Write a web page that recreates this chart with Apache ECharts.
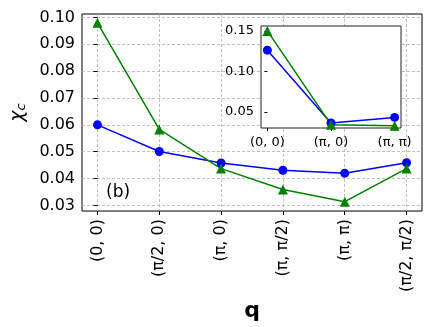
<!DOCTYPE html>
<html>
<head>
<meta charset="utf-8">
<script src="https://cdn.jsdelivr.net/npm/echarts@6/dist/echarts.min.js"></script>
<style>
  html, body { margin: 0; padding: 0; background: #fff; }
  #chart { width: 436px; height: 327px; }
</style>
</head>
<body>
<div id="chart"></div>
<script>
// main panel
const categories = ['(0, 0)', '(π/2, 0)', '(π, 0)', '(π, π/2)', '(π, π)', '(π/2, π/2)'];
const blueMain = [0.0600, 0.0501, 0.0458, 0.0431, 0.0420, 0.0459];
const greenMain = [0.0980, 0.0583, 0.0437, 0.0359, 0.0314, 0.0437];
const yTicksMain = [0.03, 0.04, 0.05, 0.06, 0.07, 0.08, 0.09, 0.10];

// inset
const insetCategories = ['(0, 0)', '(π, 0)', '(π, π)'];
const blueInset = [0.1263, 0.0365, 0.0434];
const greenInset = [0.1500, 0.0344, 0.0331];
const yTicksInset = [0.05, 0.10, 0.15];

const font = 'DejaVu Sans';
const BLUE = '#0000ff';
const GREEN = '#008000';

const gridLine = {
  show: true,
  lineStyle: { color: '#b0b0b0', type: [3, 2], width: 0.8 },
};

function idx(arr) {
  return arr.map((v, i) => i);
}
function toPoints(arr) {
  return arr.map((v, i) => [i, v]);
}

const chart = echarts.init(document.getElementById('chart'), null, { renderer: 'canvas' });

const option = {
  animation: false,
  backgroundColor: '#fff',
  textStyle: { fontFamily: font },
  grid: [
    {
      left: 82, top: 14, width: 340, height: 199,
      show: true, borderColor: '#000', borderWidth: 1, backgroundColor: 'transparent',
    },
    {
      left: 261, top: 26, width: 140, height: 102, z: 3,
      show: true, borderColor: '#222', borderWidth: 1, backgroundColor: '#fff',
    },
  ],
  xAxis: [
    {
      gridIndex: 0,
      type: 'value',
      min: -0.25,
      max: categories.length - 0.75,
      axisLine: { show: false },
      axisTick: { show: true, length: 4, customValues: idx(categories), lineStyle: { color: '#000' } },
      axisLabel: {
        customValues: idx(categories),
        rotate: 90,
        margin: 8,
        fontSize: 16,
        color: '#000',
        fontFamily: font,
        formatter: v => categories[Math.round(v)],
      },
      splitLine: gridLine,
      name: 'q',
      nameLocation: 'middle',
      nameGap: 80,
      nameTextStyle: { fontSize: 22, fontWeight: 'bold', color: '#000', fontFamily: font },
    },
    {
      gridIndex: 1,
      type: 'value',
      z: 4,
      min: -0.1,
      max: insetCategories.length - 0.9,
      axisLine: { show: false },
      axisTick: { show: true, length: 3, customValues: idx(insetCategories), lineStyle: { color: '#000' } },
      axisLabel: {
        customValues: idx(insetCategories),
        margin: 8,
        fontSize: 13,
        color: '#000',
        fontFamily: font,
        formatter: v => insetCategories[Math.round(v)],
      },
      splitLine: { show: false },
    },
  ],
  yAxis: [
    {
      gridIndex: 0,
      type: 'value',
      min: 0.0279,
      max: 0.1013,
      axisLine: { show: false },
      axisTick: { show: true, length: 4, customValues: yTicksMain, lineStyle: { color: '#000' } },
      axisLabel: {
        customValues: yTicksMain,
        margin: 7,
        fontSize: 16,
        color: '#000',
        fontFamily: font,
        formatter: v => v.toFixed(2),
      },
      splitLine: gridLine,
      name: '{chi|χ}{sub|c}',
      nameLocation: 'middle',
      nameRotate: 90,
      nameGap: 52,
      nameTextStyle: {
        color: '#000',
        rich: {
          chi: { fontSize: 19, fontStyle: 'italic', fontFamily: font, color: '#000' },
          sub: { fontSize: 13, fontStyle: 'italic', fontFamily: font, color: '#000', padding: [8, 0, 0, 0] },
        },
      },
    },
    {
      gridIndex: 1,
      type: 'value',
      z: 4,
      min: 0.0303,
      max: 0.1561,
      axisLine: { show: false },
      axisTick: { show: true, length: 3, customValues: yTicksInset, lineStyle: { color: '#000' } },
      axisLabel: {
        customValues: yTicksInset,
        margin: 7,
        fontSize: 13,
        color: '#000',
        fontFamily: font,
        formatter: v => v.toFixed(2),
      },
      splitLine: { show: false },
    },
  ],
  graphic: [
    {
      type: 'text',
      left: 106,
      top: 184,
      style: { text: '(b)', fontSize: 17, fontFamily: font, fill: '#000' },
    },
  ],
  series: [
    {
      type: 'line',
      xAxisIndex: 0, yAxisIndex: 0,
      data: toPoints(blueMain),
      symbol: 'circle', symbolSize: 9,
      lineStyle: { color: BLUE, width: 1.5 },
      itemStyle: { color: BLUE },
    },
    {
      type: 'line',
      xAxisIndex: 0, yAxisIndex: 0,
      data: toPoints(greenMain),
      symbol: 'triangle', symbolSize: 10,
      lineStyle: { color: GREEN, width: 1.5 },
      itemStyle: { color: GREEN },
    },
    {
      type: 'line',
      xAxisIndex: 1, yAxisIndex: 1, z: 5,
      data: toPoints(blueInset),
      symbol: 'circle', symbolSize: 9,
      lineStyle: { color: BLUE, width: 1.5 },
      itemStyle: { color: BLUE },
    },
    {
      type: 'line',
      xAxisIndex: 1, yAxisIndex: 1, z: 5,
      data: toPoints(greenInset),
      symbol: 'triangle', symbolSize: 10,
      lineStyle: { color: GREEN, width: 1.5 },
      itemStyle: { color: GREEN },
    },
  ],
};

chart.setOption(option);
</script>
</body>
</html>
